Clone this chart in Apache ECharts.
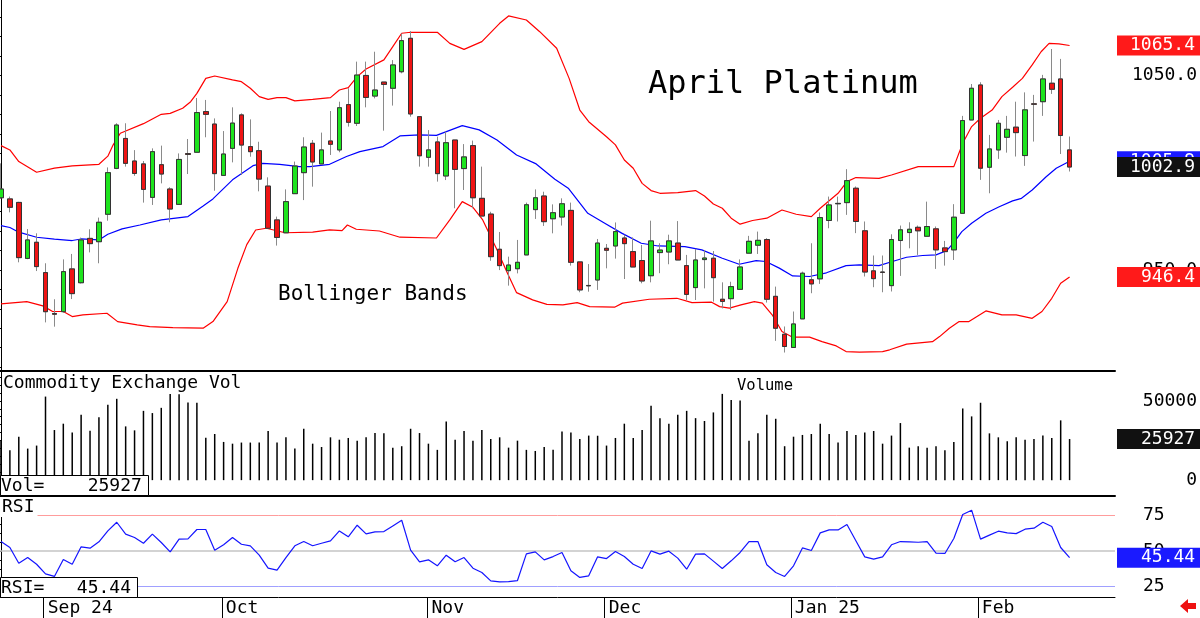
<!DOCTYPE html>
<html>
<head>
<meta charset="utf-8">
<title>April Platinum</title>
<script src="https://cdn.jsdelivr.net/npm/echarts@6/dist/echarts.min.js"></script>
<style>
  html, body { margin: 0; padding: 0; background: #fff; }
  #chart { width: 1200px; height: 618px; }
</style>
</head>
<body>
<div id="chart"></div>
<script>
// daily bars, index 0 = first visible session (late Aug 2024)
const opens = [
  987.1, 986.5, 984.7, 955.9, 964.2, 948.6, 927.6, 928.5, 950.5, 943.4,
  966.2, 964.5, 978.6, 1002.2, 1017.6, 1006.0, 1004.5, 987.3, 1004.1, 991.6,
  983.7, 1009.8, 1010.5, 1031.4, 1025.0, 998.6, 1012.5, 1029.7, 1013.4, 1011.3,
  993.1, 975.7, 969.1, 989.2, 1000.0, 1015.1, 1004.5, 1016.3, 1011.7, 1035.0,
  1025.4, 1050.0, 1039.4, 1046.6, 1043.4, 1051.9, 1069.1, 1028.8, 1007.9, 1015.8,
  998.3, 1016.8, 1002.1, 1013.9, 986.8, 978.7, 960.6, 949.6, 950.6, 957.7,
  981.0, 988.0, 976.3, 977.2, 980.6, 954.1, 942.0, 944.8, 961.1, 962.3,
  966.4, 959.4, 954.8, 947.0, 958.9, 959.2, 963.8, 952.2, 940.9, 955.3,
  956.0, 934.9, 935.2, 940.0, 958.6, 962.7, 965.6, 936.4, 916.9, 910.1,
  924.8, 944.9, 945.4, 975.4, 984.0, 984.6, 992.0, 970.1, 949.5, 948.9,
  941.9, 965.1, 969.2, 971.9, 967.3, 971.1, 961.3, 960.3, 979.1, 1027.1,
  1045.1, 1002.8, 1011.7, 1018.2, 1023.4, 1008.8, 1035.4, 1036.5, 1046.0, 1048.2,
  1011.7
];
const closes = [
  991.6, 982.2, 956.3, 965.4, 951.7, 928.5, 927.2, 949.1, 937.8, 965.4,
  963.5, 974.5, 1000.0, 1024.5, 1004.8, 999.6, 991.4, 1010.8, 999.3, 981.3,
  1006.8, 1009.4, 1030.9, 1030.0, 999.5, 1009.6, 1025.5, 1014.2, 1010.8, 996.7,
  971.4, 966.7, 985.1, 1003.4, 1013.2, 1005.5, 1011.7, 1014.6, 1033.4, 1025.9,
  1050.2, 1038.7, 1042.5, 1045.4, 1055.4, 1067.9, 1030.2, 1008.7, 1011.7, 999.5,
  1015.4, 1001.7, 1008.1, 987.1, 977.7, 956.8, 952.2, 952.5, 953.9, 983.5,
  987.1, 974.8, 979.4, 984.0, 953.9, 939.7, 941.8, 963.8, 960.1, 969.7,
  963.5, 951.5, 944.3, 964.9, 960.2, 964.9, 955.1, 937.4, 955.1, 956.1,
  946.0, 933.8, 941.4, 951.5, 964.7, 965.2, 934.9, 920.0, 910.6, 922.2,
  948.3, 942.8, 976.9, 983.4, 984.2, 995.9, 974.9, 948.9, 945.5, 948.7,
  965.6, 970.6, 970.9, 970.1, 972.3, 960.3, 959.4, 977.1, 1026.8, 1043.4,
  1002.3, 1012.2, 1025.4, 1022.3, 1020.6, 1032.3, 1035.2, 1048.2, 1042.9, 1019.1,
  1002.9
];
const lows = [
  986.5, 979.6, 953.9, 955.5, 949.4, 923.0, 920.8, 928.0, 935.0, 943.0,
  959.0, 953.4, 975.3, 1001.8, 1003.1, 998.4, 984.6, 983.4, 994.5, 974.5,
  983.5, 999.3, 1010.5, 1018.2, 990.7, 998.6, 1005.3, 998.8, 1008.2, 990.4,
  971.4, 962.5, 969.1, 989.2, 985.9, 992.8, 1004.5, 1009.1, 1010.5, 1023.7,
  1024.0, 1033.6, 1038.2, 1021.6, 1034.5, 1051.1, 1028.8, 1003.1, 1003.1, 995.4,
  996.2, 981.7, 991.1, 981.7, 977.7, 954.7, 949.9, 941.9, 948.2, 957.7,
  976.2, 972.6, 968.8, 972.8, 952.2, 938.5, 938.8, 939.7, 950.8, 955.8,
  945.3, 951.5, 943.1, 943.6, 948.3, 952.9, 955.1, 934.5, 934.5, 940.5,
  933.7, 930.2, 929.4, 940.0, 958.6, 958.2, 933.2, 913.5, 907.5, 910.1,
  924.8, 938.0, 942.8, 971.4, 974.9, 978.3, 968.9, 946.6, 941.1, 938.5,
  938.9, 946.9, 961.1, 957.7, 967.3, 950.5, 952.2, 955.1, 979.1, 1027.1,
  996.3, 989.4, 1007.1, 1010.3, 1008.3, 1003.5, 1016.0, 1029.2, 1040.5, 1009.6,
  1000.6
];
const highs = [
  1004.8, 987.7, 985.0, 971.0, 968.8, 953.4, 934.9, 955.4, 958.2, 966.6,
  970.9, 976.9, 1002.7, 1025.4, 1025.4, 1011.6, 1006.0, 1012.5, 1013.9, 992.5,
  1009.9, 1017.3, 1038.4, 1037.4, 1027.9, 1021.4, 1033.6, 1030.5, 1027.4, 1015.9,
  997.6, 977.4, 991.4, 1005.7, 1018.2, 1016.8, 1020.6, 1031.7, 1036.5, 1043.4,
  1057.1, 1057.1, 1062.2, 1046.6, 1057.9, 1071.6, 1072.8, 1028.8, 1021.9, 1018.5,
  1021.1, 1016.8, 1014.7, 1016.5, 1003.1, 979.9, 969.5, 956.8, 965.4, 984.6,
  991.4, 990.2, 983.7, 986.8, 984.6, 954.1, 953.0, 965.9, 963.3, 974.4,
  968.1, 966.7, 962.8, 975.3, 963.7, 968.1, 975.1, 957.7, 960.8, 960.2,
  959.7, 943.6, 943.9, 955.4, 967.5, 969.7, 966.3, 941.4, 920.9, 928.6,
  949.1, 963.7, 979.5, 987.7, 987.7, 1001.8, 992.9, 974.9, 957.4, 957.4,
  968.3, 972.8, 974.5, 972.8, 985.1, 972.3, 964.9, 983.8, 1029.2, 1045.6,
  1046.5, 1019.4, 1027.1, 1029.2, 1036.5, 1041.3, 1040.0, 1050.3, 1063.6, 1058.5,
  1018.6
];

// bollinger bands, read as [bar index, price]
const bbUpper = [
  [0, 1013.9], [1, 1011.7], [2, 1005.7], [4, 1000.2], [6, 1002.3], [8, 1003.5], [11, 1004.3],
  [12, 1008.5], [12.6, 1014.3], [13.4, 1020.3], [16, 1025.2], [18, 1030], [19, 1030.5],
  [20.4, 1033.1], [21.3, 1036.5], [22, 1040.8], [23, 1048.5], [24, 1049.7], [26, 1047.7],
  [27, 1046.8], [28, 1043.4], [29, 1039.1], [30, 1037.7], [31, 1038.6], [32, 1038.6],
  [33, 1036.9], [35, 1037.7], [37, 1038.6], [38, 1042.5], [39, 1043.7], [40, 1049.4],
  [41, 1053.3], [43, 1058], [44, 1064.8], [45, 1071.7], [46, 1072.2], [49, 1072.2],
  [50.4, 1066.5], [52, 1063.4], [54, 1067.4], [56, 1076.8], [57, 1080.6], [59, 1078.5],
  [60.5, 1072.5], [62.4, 1064], [63.8, 1048.5], [65, 1032.2], [66, 1026.2], [68, 1018.5],
  [69, 1014.3], [70, 1006.5], [71, 1002.3], [72, 994.5], [73, 990.8], [74, 989.4],
  [76, 989.7], [78, 990.8], [79, 988], [80, 983.9], [81, 981.7], [82, 976.6], [83, 973.5],
  [84.4, 975.4], [86, 976.6], [87.7, 980.8], [89.3, 978.6], [91, 977.4], [92, 981.7],
  [94, 989.4], [95, 995.4], [96, 997.5], [98.6, 997.1], [100, 998.8], [103, 1003.1],
  [107, 1003.1], [108, 1015.1], [109, 1023.7], [110, 1028], [111.3, 1032.2], [112.4, 1039.1],
  [113.6, 1043.9], [114.7, 1048.5], [115.8, 1055.4], [116.8, 1062.2], [117.7, 1066.5],
  [118.8, 1066.2], [120, 1065.4]
];
const bbMiddle = [
  [0, 972.8], [1, 971.8], [2, 969.4], [4, 966.8], [6, 965.8], [8, 965.1], [9, 965.9],
  [11, 965.4], [12, 968.3], [13.6, 971.1], [15.6, 973.1], [18, 975.7], [21, 977.4],
  [22.7, 982.9], [23.8, 986.5], [26, 996.3], [28.3, 1003.6], [29.4, 1004.8], [31.3, 1004.3],
  [33.5, 1003.1], [34.7, 1003.1], [36.9, 1004.3], [38.8, 1008.3], [40.3, 1010.8],
  [42.9, 1013.4], [44.8, 1018.9], [47, 1019.4], [48.9, 1019.2], [51.8, 1024.2], [53.7, 1022],
  [55.7, 1016.8], [57.9, 1009.1], [60.1, 1004.5], [62.2, 996.6], [63.7, 992], [65.9, 979.1],
  [67.8, 974], [69.7, 968.9], [71.9, 963.7], [73.8, 962.3], [76.8, 962], [78.7, 960.3],
  [81, 956], [82.9, 952.9], [84.8, 954.8], [85.9, 954.3], [87.4, 950.9], [88.9, 946.9],
  [90.8, 946.6], [92.7, 948.5], [94.9, 952.2], [96.4, 952.6], [98.6, 952.2], [100.1, 954.3],
  [101.7, 956.5], [103.5, 957.4], [105, 957.7], [106.2, 959.9], [107, 964], [107.9, 969.7],
  [109, 974], [110.6, 979.1], [112.1, 982.5], [113.6, 985.5], [114.6, 986.8], [115.8, 991.1],
  [117.4, 998], [118.5, 1002.3], [120, 1005.9]
];
const bbLower = [
  [0, 932.5], [2.9, 933.7], [4.7, 931.5], [5.8, 928.6], [7, 928.6], [8, 926], [9.2, 926.9],
  [11.9, 927.7], [13.1, 923.4], [15.3, 921.7], [16.7, 920.8], [19.3, 920.3], [22.7, 920],
  [23.8, 923.4], [25.4, 933.7], [26.6, 950.8], [27.6, 963], [28.6, 970.5], [29.8, 971.4],
  [31.9, 969.1], [35, 969.4], [36.9, 970.6], [38.3, 970.2], [38.9, 973.1], [39.9, 970.9],
  [42.5, 970], [44.8, 966.8], [48.9, 966.4], [50.4, 975.7], [51.8, 985.1], [53, 982.2],
  [54.1, 975.7], [55.7, 960.3], [56.8, 949.1], [57.9, 938.3], [59.7, 934.6], [61.3, 932.3],
  [63.1, 932], [64.7, 933.2], [66.1, 931.1], [68.9, 930.8], [69.8, 932.9], [72.8, 934.9],
  [75.9, 935.4], [77.6, 933.2], [79.8, 933.4], [80.7, 931.1], [81.8, 930.3], [83.1, 932],
  [84.6, 933.7], [85.5, 932.9], [86.6, 926.9], [87.7, 918.3], [88.9, 915.4], [90.8, 915.4],
  [92.2, 913.1], [93.8, 910.9], [94.9, 908], [96.4, 907.7], [99, 908], [99.8, 908.9],
  [101.7, 911.8], [104.6, 913.1], [105.4, 915.7], [106.5, 920], [107.6, 923.4], [108.7, 923.4],
  [110.6, 928.9], [112.4, 926.9], [114, 926.9], [115.8, 925.1], [116.9, 928.6], [118, 935.4],
  [119, 943.1], [120, 946.4]
];

const volumes = [
  25100, 18850, 27400, 19900, 21800, 52700, 31600, 35600, 30100, 41200,
  31200, 39600, 47500, 51300, 33900, 31400, 43700, 42300, 45600, 54400,
  54200, 49000, 48800, 26800, 29100, 24100, 23000, 23700, 23700, 23700,
  31000, 23700, 27000, 19900, 32400, 23000, 20900, 27000, 25500, 26600,
  24900, 27000, 29700, 29500, 20500, 21400, 32400, 29700, 23000, 19100,
  37000, 25500, 31000, 24900, 31600, 26000, 27000, 20500, 24900, 19100,
  18400, 20900, 19100, 30600, 30100, 26000, 28100, 28000,
  21800, 26600, 35600, 26600, 31600, 46900, 39100, 35600, 41200, 43700,
  39100, 37300, 42700, 54400, 50600, 50200, 24900, 29500, 41200, 38700,
  21400, 27400, 28500, 29100, 35600, 29100, 23700, 31000, 28500, 30100,
  31000, 23000, 28100, 36000, 20500, 21400, 20500, 21400, 18900, 24100,
  45200, 40200, 48800, 29500, 27000, 24500, 27000, 25500, 26000, 28100,
  26600, 37700, 25927
];

const rsi = [
  56.8, 52.6, 41.5, 45.5, 40.8, 34.0, 32.2, 44.1, 40.8, 53.1,
  52.1, 56.6, 64.3, 70.4, 62.0, 59.6, 55.6, 62.0, 56.1, 49.5,
  58.5, 58.7, 65.3, 65.3, 50.7, 54.5, 59.6, 54.9, 53.8, 47.2,
  38.0, 36.6, 45.5, 53.8, 56.8, 53.8, 55.6, 57.3, 64.3, 60.1,
  68.3, 62.2, 63.6, 63.8, 67.8, 71.8, 50.7, 42.5, 43.9, 39.7,
  47.2, 42.5, 45.5, 38.0, 35.0, 29.1, 28.4, 28.6, 29.3, 48.1,
  49.5, 43.9, 46.2, 49.1, 36.2, 31.5, 32.6, 46.0,
  44.8, 49.8, 46.2, 40.8, 37.8, 50.2, 47.9, 50.0, 45.1, 37.3,
  47.9, 48.1, 43.0, 37.8, 43.2, 49.1, 56.8, 56.8, 40.4, 35.0,
  32.2, 39.7, 52.3, 50.5, 62.9, 65.0, 65.0, 68.8, 57.3, 46.0,
  44.4, 46.0, 54.5, 56.8, 56.6, 56.3, 56.8, 48.6, 48.4, 58.9,
  75.8, 78.9, 58.5, 61.3, 64.1, 62.9, 62.4, 65.5, 66.2, 70.4,
  67.4, 52.6, 45.44
];

// month dividers on the date axis (bar index of the break) and their labels
const monthPos = [4.8, 24.8, 47.9, 67.8, 88.7, 109.7];
const monthLabels = ['Sep 24', 'Oct', 'Nov', 'Dec', 'Jan 25', 'Feb'];

const MONO = '"DejaVu Sans Mono", "Liberation Mono", monospace';
const UP = '#1ee41e';
const DOWN = '#ee1414';
const X_MIN = -0.11, X_MAX = 125.1;

const candleData = opens.map((o, i) => [i, o, closes[i], lows[i], highs[i]]);
const bodyData = opens.map((o, i) => [i, o, closes[i], Math.min(o, closes[i]), Math.max(o, closes[i])]);
const volData = volumes.map((v, i) => [i, v]);
const rsiData = rsi.map((v, i) => [i, v]);

const last = arr => arr[arr.length - 1];

function range(from, to, step) {
    let out = [];
    for (let v = from; v <= to + 1e-9; v += step) out.push(+v.toFixed(2));
    return out;
}

// value box drawn at the right edge of a panel
function tagLabel(text, bg) {
    return {
        show: true,
        position: 'end',
        distance: 2,
        formatter: text,
        color: '#fff',
        opacity: 1,
        backgroundColor: bg,
        fontFamily: MONO,
        fontSize: 18,
        lineHeight: 18,
        padding: [1, 5, 1, Math.round(78 - 10.84 * text.length)]
    };
}

function tag(value, text, bg, z) {
    return {
        silent: true,
        symbol: ['none', 'none'],
        animation: false,
        z: z,
        lineStyle: { color: 'rgba(0,0,0,0)', width: 0 },
        data: [{ yAxis: value }],
        label: tagLabel(text, bg)
    };
}

function xAxis(gridIndex) {
    return {
        type: 'value',
        gridIndex: gridIndex,
        min: X_MIN,
        max: X_MAX,
        axisLabel: { show: false },
        axisTick: { show: false },
        splitLine: { show: false },
        axisLine: { show: true, onZero: false, lineStyle: { color: '#000', width: 2 } }
    };
}

function yAxis(gridIndex, min, max, ticks, labels, labelOpts) {
    return {
        type: 'value',
        gridIndex: gridIndex,
        position: 'right',
        min: min,
        max: max,
        splitLine: { show: false },
        axisLine: { show: true, lineStyle: { color: '#000', width: 1 } },
        axisTick: { show: true, inside: true, length: 4, customValues: ticks, lineStyle: { color: '#000' } },
        axisLabel: Object.assign({
            customValues: labels,
            color: '#000',
            fontFamily: MONO,
            fontSize: 18
        }, labelOpts)
    };
}

const chart = echarts.init(document.getElementById('chart'));

let xAxes = [xAxis(0), xAxis(1), xAxis(2)];
xAxes[2].axisLine.lineStyle.width = 1;
xAxes[2].axisTick = {
    show: true, length: 21, customValues: monthPos,
    lineStyle: { color: '#000', width: 1 }
};
xAxes[2].axisLabel = {
    show: true,
    customValues: monthPos,
    formatter: v => monthLabels[monthPos.indexOf(v)] || '',
    align: 'left',
    margin: 2,
    padding: [0, 0, 0, 4],
    color: '#000',
    fontFamily: MONO,
    fontSize: 18
};

let option = {
    animation: false,
    backgroundColor: '#fff',
    grid: [
        { left: 0, right: 85, top: 0, height: 371 },
        { left: 0, right: 85, top: 372, height: 124 },
        { left: 0, right: 85, top: 496, height: 101 }
    ],
    xAxis: xAxes,
    yAxis: [
        yAxis(0, 898, 1088.8, range(900, 1080, 10), [950, 1050],
            { formatter: v => v.toFixed(1), align: 'right', margin: 82 }),
        yAxis(1, -10000, 68200, range(-5000, 65000, 5000), [0, 50000],
            { formatter: v => String(v), align: 'right', margin: 82 }),
        yAxis(2, 17.7, 88.9, range(25, 87.5, 6.25), [25, 50, 75],
            { formatter: v => String(v), align: 'left', margin: 28 })
    ],
    series: [
        {
            name: 'Upper',
            type: 'line',
            xAxisIndex: 0, yAxisIndex: 0,
            data: bbUpper,
            showSymbol: false,
            lineStyle: { color: '#ff0000', width: 1.2 },
            z: 2,
            markLine: tag(last(bbUpper)[1], last(bbUpper)[1].toFixed(1), '#ff1a1a', 5)
        },
        {
            name: 'Lower',
            type: 'line',
            xAxisIndex: 0, yAxisIndex: 0,
            data: bbLower,
            showSymbol: false,
            lineStyle: { color: '#ff0000', width: 1.2 },
            z: 2,
            markLine: tag(last(bbLower)[1], last(bbLower)[1].toFixed(1), '#ff1a1a', 5)
        },
        {
            name: 'Middle',
            type: 'line',
            xAxisIndex: 0, yAxisIndex: 0,
            data: bbMiddle,
            showSymbol: false,
            lineStyle: { color: '#0000ff', width: 1.2 },
            z: 2,
            markLine: tag(last(bbMiddle)[1], last(bbMiddle)[1].toFixed(1), '#1a1aff', 5)
        },
        {
            name: 'Wicks',
            type: 'candlestick',
            xAxisIndex: 0, yAxisIndex: 0,
            data: candleData,
            encode: { x: 0, y: [1, 2, 3, 4] },
            barWidth: 5,
            z: 3,
            itemStyle: {
                color: UP, color0: DOWN,
                borderColor: '#8a8a8a', borderColor0: '#8a8a8a', borderWidth: 1
            }
        },
        {
            name: 'April Platinum',
            type: 'candlestick',
            xAxisIndex: 0, yAxisIndex: 0,
            data: bodyData,
            encode: { x: 0, y: [1, 2, 3, 4] },
            barWidth: 5,
            z: 4,
            itemStyle: {
                color: UP, color0: DOWN,
                borderColor: '#333', borderColor0: '#333', borderWidth: 1
            },
            markLine: tag(last(closes), last(closes).toFixed(1), '#111', 6)
        },
        {
            name: 'Volume',
            type: 'bar',
            xAxisIndex: 1, yAxisIndex: 1,
            data: volData,
            barWidth: 1.5,
            itemStyle: { color: '#000' },
            markLine: tag(last(volumes), String(last(volumes)), '#111', 5)
        },
        {
            name: 'RSI levels',
            type: 'line',
            xAxisIndex: 2, yAxisIndex: 2,
            data: rsiData,
            showSymbol: false,
            lineStyle: { opacity: 0 },
            z: 1,
            markLine: {
                silent: true,
                symbol: ['none', 'none'],
                animation: false,
                z: 1,
                label: { show: false },
                data: [
                    { yAxis: 75, lineStyle: { color: '#ff9c9c', width: 1, type: 'solid' } },
                    { yAxis: 50, lineStyle: { color: '#c4c4c4', width: 1.5, type: 'solid' } },
                    { yAxis: 25, lineStyle: { color: '#a0a0ff', width: 1, type: 'solid' } }
                ]
            }
        },
        {
            name: 'RSI',
            type: 'line',
            xAxisIndex: 2, yAxisIndex: 2,
            data: rsiData,
            showSymbol: false,
            lineStyle: { color: '#1414ff', width: 1.2 },
            z: 3,
            markLine: tag(last(rsi), last(rsi).toFixed(2), '#1a1aff', 5)
        }
    ],
    graphic: [
        {
            type: 'text', x: 648, y: 85, z: 100,
            style: { text: 'April Platinum', fontFamily: MONO, fontSize: 32, fill: '#000', verticalAlign: 'middle' }
        },
        {
            type: 'text', x: 278, y: 295, z: 100,
            style: { text: 'Bollinger Bands', fontFamily: MONO, fontSize: 21, fill: '#000', verticalAlign: 'middle' }
        },
        {
            type: 'text', x: 3, y: 383, z: 100,
            style: { text: 'Commodity Exchange Vol', fontFamily: MONO, fontSize: 18, fill: '#000', verticalAlign: 'middle' }
        },
        {
            type: 'text', x: 765, y: 386, z: 100,
            style: { text: 'Volume', fontFamily: MONO, fontSize: 15.5, fill: '#000', align: 'center', verticalAlign: 'middle' }
        },
        {
            type: 'rect', z: 100,
            shape: { x: 0.5, y: 475.5, width: 148, height: 20 },
            style: { fill: '#fff', stroke: '#000', lineWidth: 1 }
        },
        {
            type: 'text', x: 1, y: 486, z: 101,
            style: { text: 'Vol=    ' + last(volumes), fontFamily: MONO, fontSize: 18, fill: '#000', verticalAlign: 'middle' }
        },
        {
            type: 'text', x: 0, y: 507, z: 100,
            style: { text: 'RSI', fontFamily: MONO, fontSize: 18, fill: '#000', verticalAlign: 'middle',
                     backgroundColor: '#fff', padding: [1, 3, 1, 2] }
        },
        {
            type: 'rect', z: 100,
            shape: { x: 0.5, y: 577.5, width: 137, height: 20 },
            style: { fill: '#fff', stroke: '#000', lineWidth: 1 }
        },
        {
            type: 'text', x: 1, y: 588, z: 101,
            style: { text: 'RSI=   ' + last(rsi).toFixed(2), fontFamily: MONO, fontSize: 18, fill: '#000', verticalAlign: 'middle' }
        },
        {
            type: 'polygon', z: 100,
            shape: { points: [[1180, 606], [1188, 599], [1188, 603], [1196, 603], [1196, 609], [1188, 609], [1188, 613]] },
            style: { fill: '#ee1111' }
        }
    ]
};

chart.setOption(option);
</script>
</body>
</html>
